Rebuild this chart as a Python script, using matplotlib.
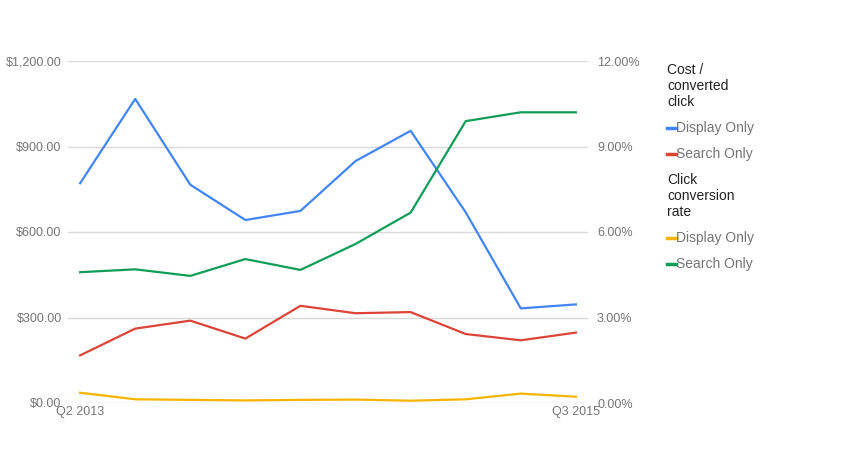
import matplotlib
matplotlib.use("Agg")
import matplotlib.pyplot as plt
from matplotlib.lines import Line2D

plt.rcParams['font.family'] = ['Liberation Sans', 'DejaVu Sans']

quarters = ['Q2 2013', 'Q3 2013', 'Q4 2013', 'Q1 2014', 'Q2 2014',
            'Q3 2014', 'Q4 2014', 'Q1 2015', 'Q2 2015', 'Q3 2015']
cost_display = [771, 1067, 766, 642, 674, 849, 955, 669, 332, 346]
cost_search = [167, 261, 289, 226, 341, 315, 319, 242, 220, 247]
conv_display = [0.36, 0.13, 0.11, 0.09, 0.11, 0.12, 0.08, 0.13, 0.33, 0.22]
conv_search = [4.59, 4.69, 4.46, 5.05, 4.67, 5.58, 6.68, 9.89, 10.20, 10.20]

BLUE = '#4285F4'
RED = '#DB4437'
YELLOW = '#F4B400'
GREEN = '#0F9D58'
GRID = '#d9d9d9'
TICK = '#757575'

W, H = 853, 450
fig = plt.figure(figsize=(W / 100, H / 100), dpi=100)
ax = fig.add_axes([68 / W, 1 - 403 / H, (588 - 68) / W, (403 - 61) / H])
ax2 = ax.twinx()

x = list(range(len(quarters)))
ax.plot(x, cost_display, color=BLUE, lw=1.6, zorder=3)
ax.plot(x, cost_search, color=RED, lw=1.6, zorder=3)
ax2.plot(x, conv_display, color=YELLOW, lw=1.6, zorder=3)
ax2.plot(x, conv_search, color=GREEN, lw=1.6, zorder=3)

ax.set_xlim(-0.22, 9.22)
ax.set_ylim(0, 1200)
ax2.set_ylim(0, 12)
ax.set_yticks([0, 300, 600, 900, 1200])
ax.set_yticklabels(['$%s' % format(v, ',.2f') for v in [0, 300, 600, 900, 1200]])
ax2.set_yticks([0, 3, 6, 9, 12])
ax2.set_yticklabels(['%.2f%%' % v for v in [0, 3, 6, 9, 12]])
ax.set_xticks([0, 9])
ax.set_xticklabels([quarters[0], quarters[-1]])

ax.grid(axis='y', color=GRID, lw=1)
for a in (ax, ax2):
    for s in a.spines.values():
        s.set_visible(False)
    a.tick_params(length=0, colors=TICK, labelsize=9)
ax.tick_params(axis='y', pad=4.5)
ax2.tick_params(axis='y', pad=6.5)
ax.tick_params(axis='x', pad=2)

# legend
lx = 667
def fy(py):
    return 1 - py / H

def header(lines, top):
    for i, t in enumerate(lines):
        fig.text(lx / W, fy(top + 16 * i), t, color='#222222', fontsize=10, va='center', ha='left')

def item(label, color, py):
    fig.add_artist(Line2D([lx / W, (lx + 9) / W], [fy(py), fy(py)], color=color, lw=2.5,
                          transform=fig.transFigure))
    fig.text((lx + 9) / W, fy(py), label, color=TICK, fontsize=10, va='center', ha='left')

header(['Cost /', 'converted', 'click'], 70)
item('Display Only', BLUE, 128)
item('Search Only', RED, 154)
header(['Click', 'conversion', 'rate'], 180)
item('Display Only', YELLOW, 238)
item('Search Only', GREEN, 264)

fig.savefig('out.png', dpi=100)
